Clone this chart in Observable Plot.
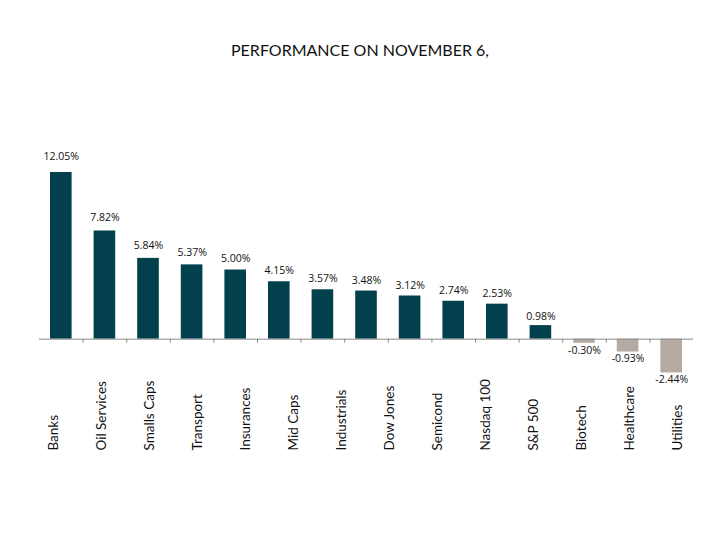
<!DOCTYPE html>
<html><head><meta charset="utf-8">
<script src="https://cdn.jsdelivr.net/npm/d3@7"></script>
<script src="https://cdn.jsdelivr.net/npm/@observablehq/plot@0.6"></script>
<style>
body{margin:0;background:#fff;width:720px;height:540px;overflow:hidden}
#title{height:100px;box-sizing:border-box;padding-top:40px;text-align:center;font-family:Lato,"Open Sans",sans-serif;font-size:16px;line-height:20px;color:#111;font-weight:400}
#chart{position:relative;width:720px;height:440px}
#chart svg{position:absolute;left:0;top:0}
</style></head><body>
<div id="title">PERFORMANCE ON NOVEMBER 6,</div>
<div id="chart"></div>
<script>
const categories = ["Banks","Oil Services","Smalls Caps","Transport","Insurances","Mid Caps","Industrials","Dow Jones","Semicond","Nasdaq 100","S&P 500","Biotech","Healthcare","Utilities"];
const values = [12.05,7.82,5.84,5.37,5.00,4.15,3.57,3.48,3.12,2.74,2.53,0.98,-0.30,-0.93,-2.44];

const posColor = "#02404e";
const negColor = "#b4aaa2";
const axisColor = "#8a8a8a";
const fmt = v => v.toFixed(2) + "%";
const bars = values.map((v, i) => ({i, v}));
const boundaries = d3.range(1, values.length).map(i => i - 0.5);

const common = {
  width: 720, height: 440, marginLeft: 39, marginRight: 27,
  x: {domain: [-0.5, values.length - 0.5], axis: null}
};
const valueFont = {fontSize: 10.5, fontFamily: "'Open Sans', sans-serif", fill: "#111"};

const main = Plot.plot({
  ...common,
  marginTop: 45, marginBottom: 146,
  y: {domain: [-4, 14], axis: null},
  style: {background: "transparent"},
  marks: [
    Plot.rectY(bars.filter(d => d.v >= 0), {x1: d => d.i - 0.5, x2: d => d.i + 0.5, y: "v", fill: posColor, insetLeft: 11, insetRight: 11}),
    Plot.rectY(bars.filter(d => d.v < 0), {x1: d => d.i - 0.5, x2: d => d.i + 0.5, y: "v", fill: negColor, insetLeft: 11, insetRight: 11}),
    Plot.ruleY([0], {stroke: axisColor}),
    Plot.ruleX(boundaries, {x: d => d, y1: 0, y2: 0, insetBottom: -4, stroke: axisColor}),
    Plot.text(bars.filter(d => d.v < 0), {x: "i", y: "v", text: d => fmt(d.v), dy: 7, ...valueFont})
  ]
});

const posLabels = Plot.plot({
  ...common,
  marginTop: 0, marginBottom: 0,
  y: {domain: [0, 14], range: [230, 27.7], axis: null},
  style: {background: "transparent"},
  marks: [
    Plot.text(bars.filter(d => d.v >= 0), {x: "i", y: "v", text: d => fmt(d.v), ...valueFont})
  ]
});

const catLabels = Plot.plot({
  width: 720, height: 440, marginLeft: 33, marginRight: 15, marginTop: 0, marginBottom: 90,
  x: {type: "point", domain: categories, padding: 0.5, axis: null},
  style: {background: "transparent"},
  marks: [
    Plot.text(categories, {x: d => d, frameAnchor: "bottom", rotate: -90, textAnchor: "start", fontSize: 13.5, fontFamily: "Lato, sans-serif", fill: "#111"})
  ]
});

const chart = document.getElementById("chart");
chart.append(main, posLabels, catLabels);
</script>
</body></html>
